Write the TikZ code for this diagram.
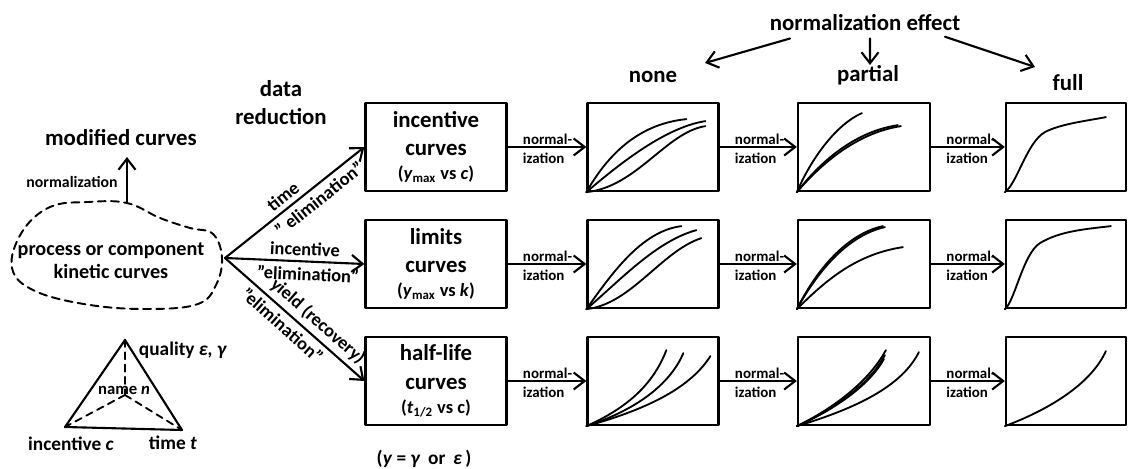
\documentclass[tikz,border=0pt]{standalone}
\usepackage{fontspec}
\setmainfont{Carlito}
\usetikzlibrary{arrows.meta,positioning,calc}
\newcommand\ttlfont{\fontsize{13}{16}\selectfont\bfseries}
\newcommand\subfont{\fontsize{10.5}{12}\selectfont\bfseries}
\newcommand\arrfont{\fontsize{10.5}{12}\selectfont\bfseries}
\newcommand\nrmfont{\fontsize{8.5}{11}\selectfont\bfseries}
\tikzset{
    every picture/.style={line cap=round,line join=round},
    redbox/.style={draw,line width=1.3pt,minimum width=2.82cm,minimum height=1.76cm,
      inner sep=1pt,font=\ttlfont,align=center},
    plotbox/.style={draw,line width=1.3pt,minimum height=1.76cm,inner sep=0pt},
    kcurve/.style={line width=1.05pt},
    flowarrow/.style={->,line width=1.2pt},
    normlab/.style={font=\nrmfont,align=left,inner sep=0pt},
    arrlab/.style={font=\arrfont,inner sep=2.6pt},
    headlab/.style={font=\ttlfont,align=center,inner sep=1pt},
    cloudline/.style={line width=1.1pt,dash pattern=on 4.5pt off 3pt}
}

\begin{document}
\begin{tikzpicture}[x=0.02cm,y=-0.02cm,>={Straight Barb[length=2.2mm,width=3.4mm]}]
  \useasboundingbox (0,0) rectangle (1132,469);

  % left part
  \node[headlab] (mod) at (121,138) {modified curves};
  \node[font=\fontsize{9}{11}\selectfont\bfseries] (normup) at (72,182) {normalization};
  \draw[cloudline] plot[smooth cycle,tension=0.65] coordinates {(127,203) (160,218) (190,228)
    (213,234) (222,258) (216,285) (198,304) (150,309) (90,305) (35,291) (12,268) (22,232)
    (50,207) (88,202)};
  \node[font=\fontsize{11.5}{13}\selectfont\bfseries,align=center] (proc) at (111,261)
    {process or component\\kinetic curves};
  \coordinate (cloudtop) at (127,202);
  \coordinate (fork) at (225,258);
  \draw[flowarrow,shorten >=5pt] (cloudtop) -- (cloudtop |- mod.south);

  % tetrahedron
  \coordinate (tA) at (125,340);
  \coordinate (tL) at (65,427);
  \coordinate (tR) at (182,430);
  \coordinate (tC) at (125,395);
  \draw[line width=1.2pt] (tA) -- (tL) -- (tR) -- cycle;
  \draw[line width=1.05pt,dash pattern=on 4pt off 3pt] (tA) -- (tC) (tC) -- (tL) (tC) -- (tR);
  \node[font=\fontsize{11}{13}\selectfont\bfseries] (tq) at (183,350) {quality \textit{ε, γ}};
  \node[font=\fontsize{9.5}{11}\selectfont\bfseries] (tn) at (124,390) {name \textit{n}};
  \node[font=\fontsize{11}{13}\selectfont\bfseries] (ti) at (71,444) {incentive \textit{c}};
  \node[font=\fontsize{11}{13}\selectfont\bfseries] (tt) at (173,443) {time \textit{t}};

  % data reduction
  \node[headlab] (datared) at (281,103) {data\\reduction};
  \node[redbox] (dr1) at (436,147) {incentive\\curves\\[-2pt]{\subfont(\textit{y}\textsubscript{max} vs \textit{c})}};
  \node[redbox] (dr2) at (436,264) {limits\\curves\\[-2pt]{\subfont(\textit{y}\textsubscript{max} vs \textit{k})}};
  \node[redbox] (dr3) at (436,381) {half-life\\curves\\[-2pt]{\subfont(\textit{t}\textsubscript{1/2} vs c)}};
  \node[font=\fontsize{11}{13}\selectfont\bfseries] (ydef) at (424,459)
    {(\textit{y} = \textit{γ} \,or\, \textit{ε}\,)};

  \draw[flowarrow] (fork) -- (dr1.west)
    node[arrlab,sloped,above,pos=0.47]{time}
    node[arrlab,sloped,below,pos=0.62]{" elimination"};
  \draw[flowarrow] (fork) -- (dr2.west)
    node[arrlab,sloped,above,pos=0.57]{incentive}
    node[arrlab,sloped,below,pos=0.6]{"elimination"};
  \draw[flowarrow] (fork) -- (dr3.west)
    node[arrlab,sloped,above,pos=0.6]{yield (recovery)}
    node[arrlab,sloped,below,pos=0.47]{"elimination"};

  % plot boxes
  \foreach \r/\yy in {1/147,2/264,3/381}{
    \node[plotbox,minimum width=2.62cm] (g\r1) at (653,\yy){};
    \node[plotbox,minimum width=2.64cm] (g\r2) at (864,\yy){};
    \node[plotbox,minimum width=2.4cm] (g\r3) at (1066,\yy){};}
  \foreach \r in {1,2,3}{
    \foreach \a/\b in {dr\r/g\r1,g\r1/g\r2,g\r2/g\r3}{
      \draw[flowarrow] (\a) -- (\b);
      \node[normlab,right=0.3cm of \a.east,yshift=-1pt]{normal-\\ization};}}

  % normalization effect
  \node[headlab] (neff) at (865,23) {normalization effect};
  \node[headlab] (none) at (653,77) {none};
  \node[headlab] (part) at (868,75) {partial};
  \node[headlab] (full) at (1068,83) {full};
  \coordinate (effnone) at (705,63);
  \coordinate (effpart) at (870,65);
  \coordinate (efffull) at (1035,67);
  \draw[flowarrow] ([xshift=-1.5cm,yshift=-3pt]neff.south) -- (effnone);
  \draw[flowarrow] ([xshift=0.1cm,yshift=-3pt]neff.south) -- (effpart);
  \draw[flowarrow] ([xshift=1.6cm,yshift=-2pt]neff.south) -- (efffull);

  % curves, row 1
  \begin{scope}[shift={(g11.south west)},y=0.02cm]
    \draw[kcurve] (0,0) .. controls (20,35) and (50,68) .. (100,73);
    \draw[kcurve] (0,0) .. controls (35,30) and (80,65) .. (119,71);
    \draw[kcurve] (0,0) .. controls (50,5) and (80,60) .. (119,66);
  \end{scope}
  \begin{scope}[shift={(g12.south west)},y=0.02cm]
    \draw[kcurve] (0,0) .. controls (15,35) and (40,68) .. (65,79);
    \draw[kcurve] (0,0) .. controls (30,35) and (65,60) .. (104,66);
    \draw[kcurve] (0,0) .. controls (28,36) and (62,61) .. (101,67);
  \end{scope}
  \begin{scope}[shift={(g13.south west)},y=0.02cm]
    \draw[kcurve] (0,0) .. controls (12,8) and (22,50) .. (40,60) .. controls (55,68) and (80,71) .. (101,75);
  \end{scope}
  % curves, row 2
  \begin{scope}[shift={(g21.south west)},y=0.02cm]
    \draw[kcurve] (0,0) .. controls (25,35) and (55,78) .. (95,83);
    \draw[kcurve] (0,0) .. controls (35,30) and (70,68) .. (110,79);
    \draw[kcurve] (0,0) .. controls (45,5) and (75,58) .. (115,71);
  \end{scope}
  \begin{scope}[shift={(g22.south west)},y=0.02cm]
    \draw[kcurve] (0,0) .. controls (20,40) and (50,75) .. (86,83);
    \draw[kcurve] (0,0) .. controls (22,40) and (52,74) .. (88,82);
    \draw[kcurve] (0,0) .. controls (30,30) and (60,55) .. (106,62);
  \end{scope}
  \begin{scope}[shift={(g23.south west)},y=0.02cm]
    \draw[kcurve] (0,0) .. controls (10,8) and (18,55) .. (35,66) .. controls (55,78) and (80,80) .. (106,83);
  \end{scope}
  % curves, row 3
  \begin{scope}[shift={(g31.south west)},y=0.02cm]
    \draw[kcurve] (0,0) .. controls (45,20) and (68,45) .. (80,76);
    \draw[kcurve] (0,0) .. controls (55,18) and (85,45) .. (97,73);
    \draw[kcurve] (0,0) .. controls (65,18) and (105,40) .. (124,70);
  \end{scope}
  \begin{scope}[shift={(g32.south west)},y=0.02cm]
    \draw[kcurve] (0,0) .. controls (45,22) and (75,50) .. (89,76);
    \draw[kcurve] (0,0) .. controls (47,21) and (76,48) .. (88,71);
    \draw[kcurve] (0,0) .. controls (45,20) and (75,45) .. (87,67);
    \draw[kcurve] (0,0) .. controls (60,18) and (105,40) .. (122,74);
  \end{scope}
  \begin{scope}[shift={(g33.south west)},y=0.02cm]
    \draw[kcurve] (0,0) .. controls (40,15) and (85,40) .. (101,75);
  \end{scope}
\end{tikzpicture}
\end{document}
